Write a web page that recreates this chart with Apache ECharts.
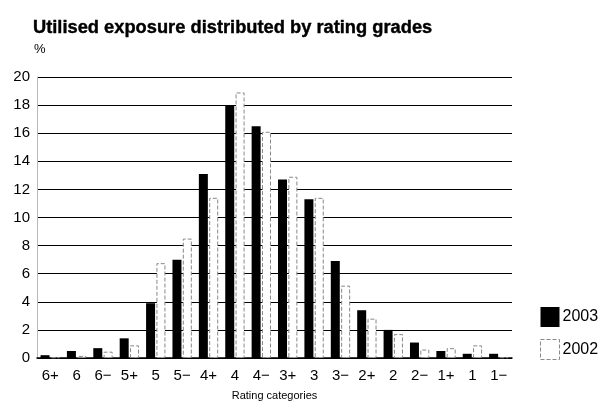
<!DOCTYPE html>
<html><head><meta charset="utf-8">
<script src="https://cdn.jsdelivr.net/npm/echarts@6/dist/echarts.min.js"></script>
<style>html,body{margin:0;padding:0;background:#fff}#c{width:603px;height:403px}</style>
</head><body><div id="c"></div>
<script>
const categories = ['6+','6','6\u2212','5+','5','5\u2212','4+','4','4\u2212','3+','3','3\u2212','2+','2','2\u2212','1+','1','1\u2212'];
const values2003 = [0.2,0.5,0.7,1.4,3.9,7.0,13.1,18.0,16.5,12.7,11.3,6.9,3.4,2.0,1.1,0.5,0.3,0.3];
const values2002 = [0.05,0.15,0.45,0.9,6.75,8.5,11.4,18.9,16.1,12.9,11.4,5.15,2.8,1.7,0.6,0.7,0.9,0.05];
const yTicks = [0,2,4,6,8,10,12,14,16,18,20];

const font = '"Liberation Sans", Arial, sans-serif';
const chart = echarts.init(document.getElementById('c'), null, {renderer:'canvas'});
chart.setOption({
  animation:false,
  backgroundColor:'#fff',
  title:{
    text:'Utilised exposure distributed by rating grades',
    left:28, top:14,
    textStyle:{fontFamily:font, fontWeight:'bold', fontSize:18.3, color:'#000',
      textBorderColor:'#000', textBorderWidth:0.4}
  },
  graphic:[{type:'text', left:34, top:43, style:{text:'%', font:'13px '+font, fill:'#000'}}],
  legend:{
    orient:'vertical', left:535, top:302, itemGap:12,
    itemWidth:19, itemHeight:20, icon:'rect',
    textStyle:{fontFamily:font, fontSize:16, color:'#000', padding:[0,0,0,-2]},
    data:[{name:'2003'},{name:'2002', itemStyle:{color:'#fff', borderColor:'#888', borderWidth:1, borderType:'dashed'}}]
  },
  grid:{left:37, right:91, top:77, bottom:45, outerBoundsMode:'none', containLabel:false},
  xAxis:{
    type:'category', data:categories,
    axisTick:{show:false},
    axisLine:{show:true, lineStyle:{color:'#000', width:1.5}},
    axisLabel:{fontFamily:font, fontSize:15, color:'#000', margin:10, interval:0},
    name:'Rating categories', nameLocation:'middle', nameGap:32,
    nameTextStyle:{fontFamily:font, fontSize:11, color:'#000'}
  },
  yAxis:{
    type:'value', min:0, max:20, interval:2,
    axisLine:{show:true, lineStyle:{color:'#bbb', width:1}},
    axisTick:{show:false},
    axisLabel:{fontFamily:font, fontSize:15, color:'#000', margin:7,
      formatter:v=>yTicks.includes(v)?String(v):''},
    splitLine:{lineStyle:{color:'#000', width:1.2}}
  },
  series:[
    {name:'2003', type:'bar', data:values2003, barWidth:9, barGap:'15%',
     itemStyle:{color:'#000'}},
    {name:'2002', type:'bar', data:values2002, barWidth:9,
     itemStyle:{color:'#fff', borderColor:'#888', borderWidth:1, borderType:'dashed'}}
  ]
});
</script></body></html>
